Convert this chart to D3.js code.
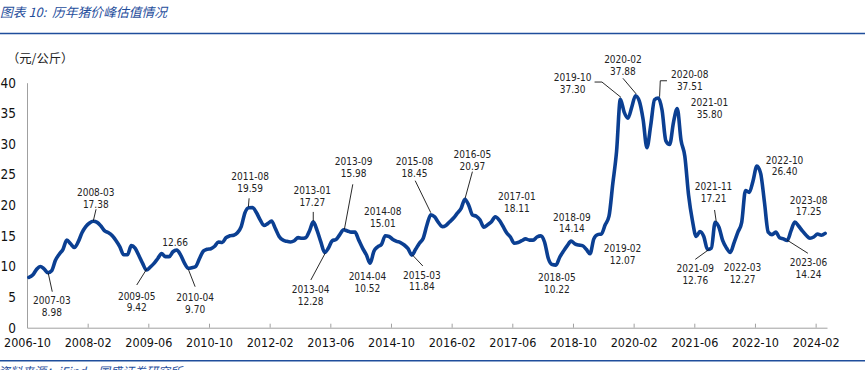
<!DOCTYPE html>
<html><head><meta charset="utf-8">
<script src="https://cdn.jsdelivr.net/npm/d3@7"></script>
<style>
html,body{margin:0;padding:0;background:#fff;}
svg{display:block;}
</style>
</head><body>
<div id="chart"></div>
<script>
// ---------- DATA ----------
const startMonth = "2006-10";
const endMonth = "2024-04";
const prices = [
 8.2,8.6,9.5,10.0,9.6,8.98,9.3,11.0,12.0,12.8,14.3,13.7,13.1,14.0,15.5,16.5,17.1,17.38,17.2,16.6,
 15.8,15.5,15.0,14.2,13.2,11.9,11.9,13.4,13.0,11.8,10.5,9.42,9.9,10.5,11.3,12.1,11.6,11.6,12.4,12.66,
 11.9,10.6,9.70,9.8,10.0,11.3,12.5,12.8,12.9,13.3,14.0,13.9,14.7,15.0,15.1,15.5,16.5,18.8,19.59,19.6,
 18.8,17.6,16.7,17.0,17.4,16.2,14.9,14.3,14.1,14.0,14.2,14.7,14.6,14.7,15.8,17.27,15.9,14.0,12.28,13.0,
 14.2,14.4,15.2,15.98,15.8,15.6,15.6,14.3,13.0,11.9,10.52,12.5,13.2,13.6,15.01,14.9,14.4,14.1,13.9,13.5,
 12.9,11.84,12.8,13.8,14.6,16.8,18.45,18.1,17.2,16.5,16.7,17.3,17.9,18.7,19.5,20.97,20.0,18.4,18.2,17.6,
 16.4,16.8,17.3,18.11,17.6,16.6,15.5,14.8,13.8,13.9,14.2,14.5,14.3,14.3,14.8,15.0,14.0,11.3,10.3,10.22,
 11.5,12.5,13.4,14.14,13.7,13.5,13.4,12.8,12.07,14.5,15.2,15.3,16.8,18.2,23.5,28.8,37.30,35.2,34.2,36.0,
 37.88,37.0,34.0,29.4,33.0,37.2,37.51,35.5,30.5,29.9,33.5,35.80,30.6,28.0,21.6,17.5,14.9,15.7,14.9,12.76,
 13.0,17.21,16.4,14.2,13.0,12.27,13.9,15.6,17.2,22.4,22.1,24.0,26.40,25.2,20.5,15.6,15.2,15.6,14.7,14.5,
 14.24,15.8,17.25,16.6,15.8,15.1,14.6,14.8,15.3,15.1,15.4
];
const yTicks = [0,5,10,15,20,25,30,35,40];
const xTickEvery = 16;
// annotated points: month, label value
const annMonths = ["2007-03","2008-03","2009-05","2010-01","2010-04","2011-08","2013-01","2013-04","2013-09","2014-04","2014-08","2015-03","2015-08","2016-05","2017-01","2018-05","2018-09","2019-02","2019-10","2020-02","2020-08","2021-01","2021-09","2021-11","2022-03","2022-10","2023-06","2023-08"];
const annValues = ["8.98","17.38","9.42","12.66","9.70","19.59","17.27","12.28","15.98","10.52","15.01","11.84","18.45","20.97","18.11","10.22","14.14","12.07","37.30","37.88","37.51","35.80","12.76","17.21","12.27","26.40","14.24","17.25"];
const annShowDate = [1,1,1,0,1,1,1,1,1,1,1,1,1,1,1,1,1,1,1,1,1,1,1,1,1,1,1,1];
// ---------- LAYOUT (label offsets relative to point, leader polylines) ----------
const annLayout = [
 {dx:4,dy:28,lead:[[0.4,0.6],[4.4,19]]},
 {dx:2.4,dy:-29,lead:[[0,-0.5],[2.7,-12]]},
 {dx:-9.7,dy:26,lead:[[0.3,-1],[-9.7,15]]},
 {dx:-1.7,dy:-8,lead:null},
 {dx:7,dy:29,lead:[[0.2,1],[7,18.4]]},
 {dx:1.3,dy:-31,lead:[[0.3,-9.4],[-0.4,-1]]},
 {dx:-1,dy:-31,lead:[[0,-10],[0,-1]]},
 {dx:-14,dy:37,lead:[[0.5,0.8],[-13.8,27.5]]},
 {dx:10,dy:-68,lead:[[0.8,-0.5],[9.2,-45.5]]},
 {dx:-2.7,dy:13.4,lead:null},
 {dx:-2.5,dy:-24,lead:null},
 {dx:10,dy:20,lead:[[0.6,-0.2],[11,10.8]]},
 {dx:-16.3,dy:-53,lead:[[0,-2],[-15.6,-34]]},
 {dx:7.5,dy:-45,lead:[[0.2,-1],[7.5,-27.6]]},
 {dx:21.6,dy:-20,lead:null},
 {dx:1,dy:12.2,lead:null},
 {dx:0.8,dy:-24,lead:null},
 {dx:32.5,dy:-5,lead:null},
 {dx:-47.8,dy:-22,lead:[[-25.8,-17.2],[-18.4,-17.2],[0.6,-1.9]]},
 {dx:-12.6,dy:-36.4,lead:[[-12.6,-17.4],[0.7,-1.7]]},
 {dx:31.5,dy:-23,lead:[[1.3,-1.2],[2,-17.2],[8.7,-17.2]]},
 {dx:32.3,dy:-5.7,lead:null},
 {dx:-12.3,dy:19,lead:[[2,-0.5],[-12.3,9.8]]},
 {dx:-1.6,dy:-36,lead:[[1.1,-0.6],[-0.6,-12.3]]},
 {dx:12.2,dy:15,lead:null},
 {dx:27.7,dy:-6,lead:null},
 {dx:21.3,dy:22,lead:[[-0.3,-0.5],[20.7,12.8]]},
 {dx:13.8,dy:-22,lead:null}
];

// ---------- CHART ----------
(function(){
const W = 865, H = 370;
const fmt = d3.timeFormat("%Y-%m");
const parse = d3.timeParse("%Y-%m");
const months = d3.timeMonth.range(parse(startMonth), d3.timeMonth.offset(parse(endMonth),1)).map(fmt);
const data = months.map((m,i)=>({m, i, v: prices[i]}));

const svg = d3.select("#chart").append("svg").attr("width",W).attr("height",H);
const pLeft = 27, pRight = 827, pTop = 82.7, pBottom = 327.7;
const x = d3.scaleLinear().domain([0, months.length]).range([pLeft, pRight]);
const y = d3.scaleLinear().domain([0, 40]).range([pBottom, pTop]);
const px = i => x(i + 0.5);

const blue = "#1f4e9c";
const fontNum = "'DejaVu Sans Condensed','DejaVu Sans',sans-serif";

// title
svg.append("text").attr("x",0).attr("y",17)
  .attr("font-family","'Noto Sans CJK SC',sans-serif").attr("font-size",12.8)
  .attr("font-style","italic").attr("fill",blue)
  .text("图表 10:\u00a0\u00a0历年猪价峰估值情况");
svg.append("line").attr("x1",0).attr("x2",W).attr("y1",33.5).attr("y2",33.5)
  .attr("stroke",blue).attr("stroke-width",1.6);

// unit
svg.append("text").attr("x",7).attr("y",63)
  .attr("font-family","'Noto Sans CJK SC',sans-serif").attr("font-size",12.3)
  .attr("fill","#222").text("（元/公斤）");

// y axis
const yAxis = svg.append("g").attr("transform",`translate(${pLeft},0)`)
  .call(d3.axisLeft(y).tickValues(yTicks).tickSize(0).tickPadding(11).tickFormat(d3.format("d")));
yAxis.select(".domain").attr("stroke","#a0a0a0");
yAxis.selectAll("text").attr("font-family",fontNum).attr("font-size",13.5).attr("fill","#111");

// x axis
const xTickIdx = d3.range(0, months.length, xTickEvery);
const xAxis = svg.append("g").attr("transform",`translate(0,${pBottom})`)
  .call(d3.axisBottom(x).tickValues(xTickIdx).tickSizeInner(-4).tickSizeOuter(0).tickPadding(10)
    .tickFormat(i=>months[i]));
xAxis.select(".domain").attr("stroke","#a0a0a0");
xAxis.selectAll(".tick line").attr("stroke","#a0a0a0");
xAxis.selectAll("text").attr("font-family",fontNum).attr("font-size",12.5).attr("fill","#111");

// line
const line = d3.line().x(d=>px(d.i)).y(d=>y(d.v)).curve(d3.curveMonotoneX);
svg.append("path").datum(data).attr("d",line)
  .attr("fill","none").attr("stroke","#0b3f92").attr("stroke-width",3.6)
  .attr("stroke-linejoin","round").attr("stroke-linecap","round");

// annotations
const ann = svg.append("g");
annMonths.forEach((m,k)=>{
  const i = months.indexOf(m);
  const ax = px(i), ay = y(prices[i]);
  const L = annLayout[k];
  if (L.lead) {
    ann.append("path").attr("d", d3.line()(L.lead.map(p=>[ax+p[0], ay+p[1]])))
      .attr("fill","none").attr("stroke","#111").attr("stroke-width",0.9);
  }
  const g = ann.append("g").attr("font-family",fontNum).attr("font-size",10).attr("fill","#222")
    .attr("text-anchor","middle");
  if (annShowDate[k]) {
    g.append("text").attr("x",ax+L.dx).attr("y",ay+L.dy).attr("dy","0.35em").text(m);
    g.append("text").attr("x",ax+L.dx).attr("y",ay+L.dy+11.8).attr("dy","0.35em").text(annValues[k]);
  } else {
    g.append("text").attr("x",ax+L.dx).attr("y",ay+L.dy).attr("dy","0.35em").text(annValues[k]);
  }
});

// bottom rule and source
svg.append("line").attr("x1",0).attr("x2",W).attr("y1",360.8).attr("y2",360.8)
  .attr("stroke",blue).attr("stroke-width",1.6);
svg.append("text").attr("x",-2).attr("y",376)
  .attr("font-family","'Noto Sans CJK SC',sans-serif").attr("font-size",12)
  .attr("font-style","italic").attr("fill",blue)
  .text("资料来源：iFind，国盛证券研究所");
})();
</script>
</body></html>
